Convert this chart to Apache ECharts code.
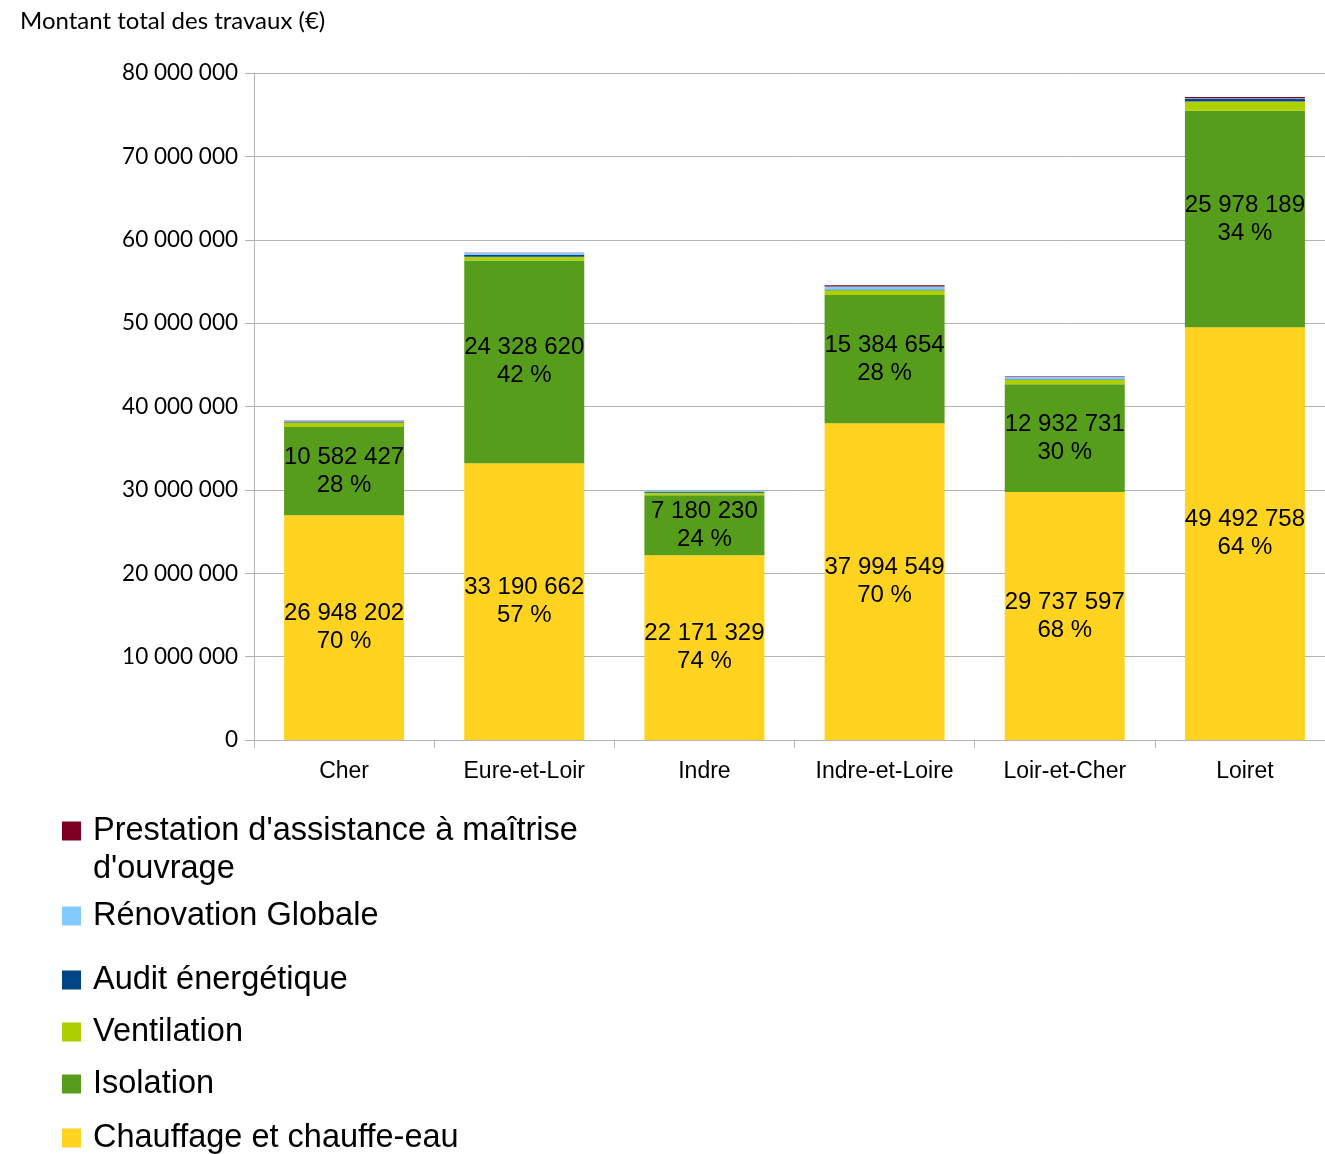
<!DOCTYPE html>
<html>
<head>
<meta charset="utf-8">
<script src="https://cdn.jsdelivr.net/npm/echarts@6/dist/echarts.min.js"></script>
<style>
  html, body { margin: 0; padding: 0; background: #fff; overflow: hidden; }
  #chart { width: 1340px; height: 1154px; }
</style>
</head>
<body>
<div id="chart"></div>
<script>
// Départements
const departements = ['Cher', 'Eure-et-Loir', 'Indre', 'Indre-et-Loire', 'Loir-et-Cher', 'Loiret'];

// Montants des travaux (€) par type, par département
const chauffage   = [26948202, 33190662, 22171329, 37994549, 29737597, 49492758];
const isolation   = [10582427, 24328620, 7180230, 15384654, 12932731, 25978189];
const ventilation = [550000, 450000, 300000, 550000, 550000, 1100000];
const audit       = [120000, 200000, 80000, 100000, 50000, 300000];
const renovation  = [80000, 250000, 120000, 350000, 300000, 100000];
const amo         = [50000, 20000, 20000, 150000, 70000, 150000];

// Graduations de l'axe des montants
const yMin = 0, yMax = 80000000, yStep = 10000000;

const seriesDefs = [
  { name: 'Chauffage et chauffe-eau', data: chauffage, color: '#FFD320', labelled: true },
  { name: 'Isolation', data: isolation, color: '#579D1C', labelled: true },
  { name: 'Ventilation', data: ventilation, color: '#AECF00' },
  { name: 'Audit énergétique', data: audit, color: '#004586' },
  { name: 'Rénovation Globale', data: renovation, color: '#83CAFF' },
  { name: "Prestation d'assistance à maîtrise d'ouvrage", data: amo, color: '#7E0021' }
];

const totals = departements.map((_, i) => seriesDefs.reduce((s, d) => s + d.data[i], 0));

function spaced(n) {
  return String(Math.round(n)).replace(/\B(?=(\d{3})+(?!\d))/g, ' ');
}

const series = seriesDefs.map(d => ({
  name: d.name,
  type: 'bar',
  stack: 'total',
  barWidth: 120,
  data: d.data,
  itemStyle: { color: d.color },
  label: d.labelled ? {
    show: true,
    position: 'inside',
    color: '#000',
    fontFamily: 'Liberation Sans',
    fontSize: 24,
    lineHeight: 28,
    formatter: p => spaced(p.value) + '\n' + Math.round(p.value / totals[p.dataIndex] * 100) + ' %'
  } : { show: false }
}));

// Légende : une entrée par bloc, de haut en bas
const legendRows = [
  { name: "Prestation d'assistance à maîtrise d'ouvrage", y: 831 },
  { name: 'Rénovation Globale', y: 916 },
  { name: 'Audit énergétique', y: 980 },
  { name: 'Ventilation', y: 1032 },
  { name: 'Isolation', y: 1084 },
  { name: 'Chauffage et chauffe-eau', y: 1138 }
];

const legends = legendRows.map(r => ({
  data: [r.name],
  left: 62,
  top: r.y - 18,
  padding: 0,
  orient: 'vertical',
  icon: 'rect',
  itemWidth: 19,
  itemHeight: 19,
  selectedMode: false,
  formatter: n => n === "Prestation d'assistance à maîtrise d'ouvrage" ? "Prestation d'assistance à maîtrise" : n,
  textStyle: {
    fontFamily: 'Liberation Sans',
    fontSize: 32.5,
    lineHeight: 36,
    color: '#000',
    padding: [0, 0, 0, 7]
  }
}));

const chart = echarts.init(document.getElementById('chart'), null, { renderer: 'canvas' });
chart.setOption({
  animation: false,
  backgroundColor: '#fff',
  title: {
    text: 'Montant total des travaux (€)',
    left: 20,
    top: 9,
    padding: 0,
    textStyle: { fontFamily: 'Lato', fontSize: 24, fontWeight: 'normal', color: '#000' }
  },
  legend: legends,
  graphic: [{
    type: 'text',
    left: 93,
    top: 853,
    style: { text: "d'ouvrage", fontFamily: 'Liberation Sans', fontSize: 32.5, fill: '#000' }
  }],
  grid: { left: 254, top: 73, width: 1081, bottom: 414, containLabel: false },
  xAxis: {
    type: 'category',
    data: departements,
    axisLine: { show: true, lineStyle: { color: '#b3b3b3', width: 1 } },
    axisTick: { show: true, length: 8, interval: 0, lineStyle: { color: '#b3b3b3' } },
    axisLabel: { interval: 0, color: '#000', fontFamily: 'Liberation Sans', fontSize: 23, margin: 20 }
  },
  yAxis: {
    type: 'value',
    min: yMin,
    max: yMax,
    interval: yStep,
    axisLine: { show: true, lineStyle: { color: '#b3b3b3', width: 1 } },
    axisTick: { show: true, length: 9, lineStyle: { color: '#b3b3b3' } },
    splitLine: { show: true, lineStyle: { color: '#b3b3b3', width: 1 } },
    axisLabel: { color: '#000', fontFamily: 'Lato', fontSize: 22.5, margin: 16, formatter: v => spaced(v) }
  },
  series: series
});
</script>
</body>
</html>
